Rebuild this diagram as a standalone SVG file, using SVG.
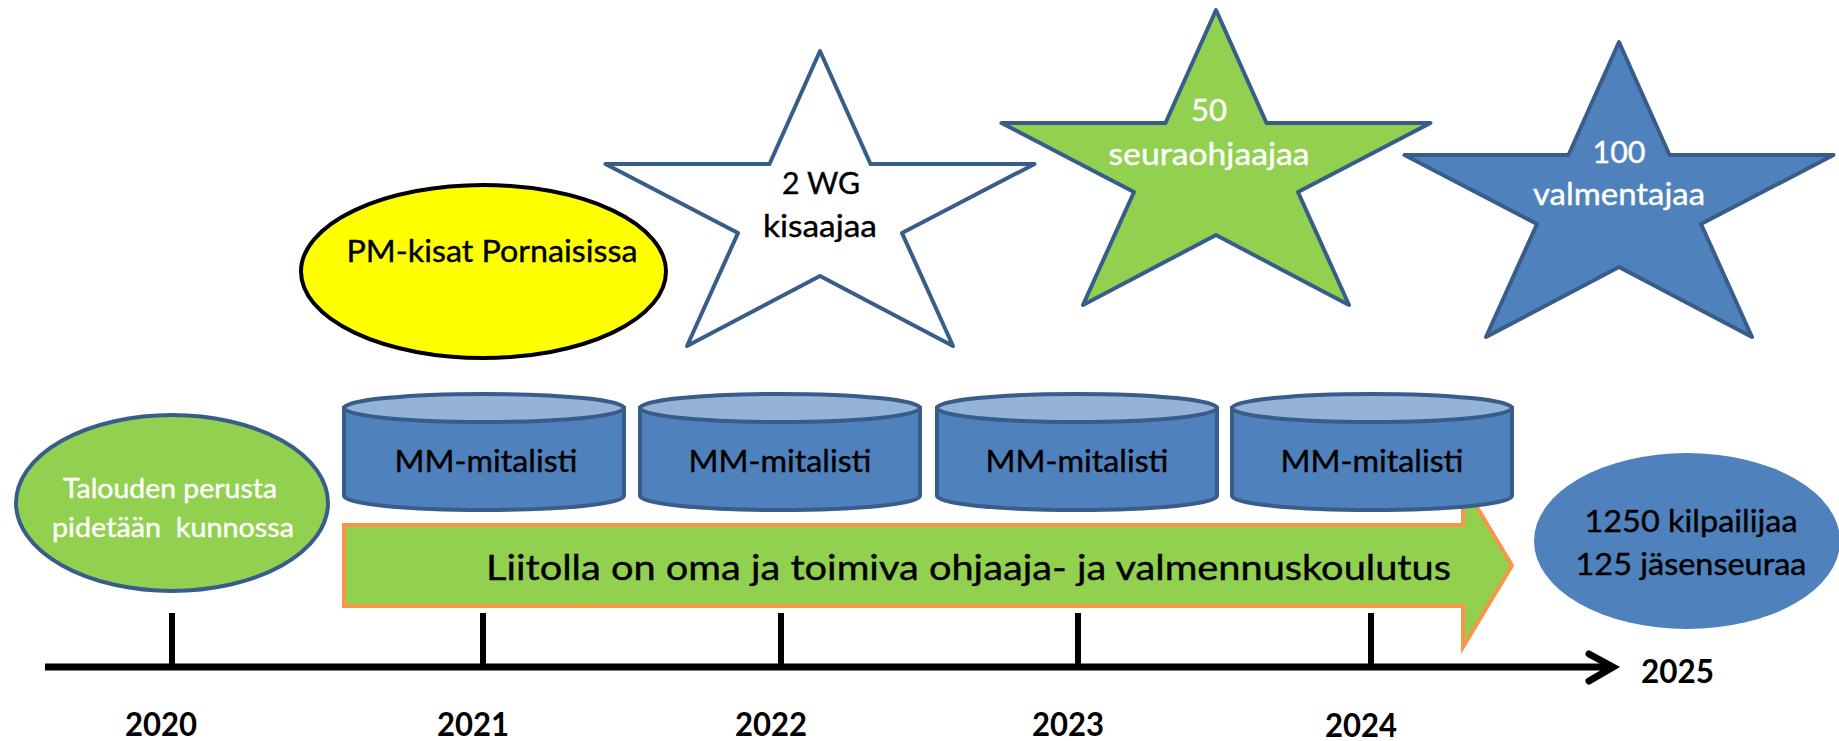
<svg xmlns="http://www.w3.org/2000/svg" xmlns:xlink="http://www.w3.org/1999/xlink" width="1839" height="741" viewBox="0 0 1839 741">
<style>
text{font-family:Lato,"Liberation Sans",sans-serif;}
.c{text-anchor:middle;}
.blk{fill:#000;stroke:#000;stroke-width:0.4;}
.wht{fill:#fff;stroke:#fff;stroke-width:0.4;}
.t31{font-size:31px;}
.yr{font-size:33px;font-weight:bold;fill:#000;}
.star{stroke:#385D8A;stroke-width:4;stroke-linejoin:round;}
.cylbody{fill:#4F81BD;stroke:#385D8A;stroke-width:4;}
.cyltop{fill:#95B3D7;stroke:#385D8A;stroke-width:4;}
.tick{stroke:#000;stroke-width:6;}
</style>
<defs>
<path id="starShape" d="M0,0 L50.5,113 L214.5,113 L82,182 L133,295 L0,225 L-133,295 L-82,182 L-214.5,113 L-50.5,113 Z"/>
<g id="cyl">
<path class="cylbody" d="M0,0 L0,88 A140,14 0 0 0 280,88 L280,0 Z"/>
<ellipse class="cyltop" cx="140" cy="0" rx="140" ry="14"/>
</g>
</defs>

<rect x="0" y="0" width="1839" height="741" fill="#fff"/>

<g id="connectors">
<g id="axis">
<line x1="45" y1="667" x2="1611" y2="667" stroke="#000" stroke-width="7"/>
<polyline points="1589,654 1613,667 1589,681" fill="none" stroke="#000" stroke-width="7" stroke-linecap="round" stroke-linejoin="miter"/>
<line class="tick" x1="172" y1="613" x2="172" y2="667"/>
<line class="tick" x1="483" y1="613" x2="483" y2="667"/>
<line class="tick" x1="781" y1="613" x2="781" y2="667"/>
<line class="tick" x1="1078" y1="613" x2="1078" y2="667"/>
<line class="tick" x1="1371" y1="613" x2="1371" y2="667"/>
</g>
</g>

<g id="years">
<text class="yr c" x="161" y="736" textLength="72" lengthAdjust="spacingAndGlyphs">2020</text>
<text class="yr c" x="473" y="736" textLength="72" lengthAdjust="spacingAndGlyphs">2021</text>
<text class="yr c" x="771" y="736" textLength="72" lengthAdjust="spacingAndGlyphs">2022</text>
<text class="yr c" x="1068" y="736" textLength="72" lengthAdjust="spacingAndGlyphs">2023</text>
<text class="yr c" x="1361" y="737" textLength="72" lengthAdjust="spacingAndGlyphs">2024</text>
<text class="yr" x="1641" y="683" textLength="73" lengthAdjust="spacingAndGlyphs">2025</text>
</g>

<g id="node-koulutus">
<polygon points="344,525 1463,525 1463,484 1512,565.5 1463,647 1463,606 344,606" fill="#92D050" stroke="#F79646" stroke-width="4" stroke-linejoin="miter"/>
<text class="blk" x="486" y="580" font-size="34" textLength="965" lengthAdjust="spacingAndGlyphs">Liitolla on oma ja toimiva ohjaaja- ja valmennuskoulutus</text>
</g>

<g id="node-mm-2021">
<use xlink:href="#cyl" href="#cyl" transform="translate(344,408)"/>
<text class="blk c t31" x="486" y="472" textLength="183" lengthAdjust="spacingAndGlyphs">MM-mitalisti</text>
</g>
<g id="node-mm-2022">
<use xlink:href="#cyl" href="#cyl" transform="translate(640,408)"/>
<text class="blk c t31" x="780" y="472" textLength="183" lengthAdjust="spacingAndGlyphs">MM-mitalisti</text>
</g>
<g id="node-mm-2023">
<use xlink:href="#cyl" href="#cyl" transform="translate(937,408)"/>
<text class="blk c t31" x="1077" y="472" textLength="183" lengthAdjust="spacingAndGlyphs">MM-mitalisti</text>
</g>
<g id="node-mm-2024">
<use xlink:href="#cyl" href="#cyl" transform="translate(1232,408)"/>
<text class="blk c t31" x="1372" y="472" textLength="183" lengthAdjust="spacingAndGlyphs">MM-mitalisti</text>
</g>

<g id="node-talous">
<ellipse cx="172" cy="503" rx="156" ry="88" fill="#92D050" stroke="#385D8A" stroke-width="4"/>
<text class="wht c" x="170" y="498" font-size="27" textLength="214" lengthAdjust="spacingAndGlyphs">Talouden perusta</text>
<text class="wht c" x="173" y="537" font-size="27" textLength="242" lengthAdjust="spacingAndGlyphs" xml:space="preserve">pidetään  kunnossa</text>
</g>

<g id="node-pm-kisat">
<ellipse cx="483.5" cy="271.5" rx="182.5" ry="86.5" fill="#FFFF00" stroke="#000" stroke-width="4"/>
<text class="blk c t31" x="492" y="262" textLength="291" lengthAdjust="spacingAndGlyphs">PM-kisat Pornaisissa</text>
</g>

<g id="node-wg">
<use xlink:href="#starShape" href="#starShape" class="star" fill="#fff" transform="translate(820,51)"/>
<text class="blk c t31" x="821" y="194" textLength="78" lengthAdjust="spacingAndGlyphs">2 WG</text>
<text class="blk c t31" x="820" y="237" textLength="114" lengthAdjust="spacingAndGlyphs">kisaajaa</text>
</g>

<g id="node-seuraohjaajat">
<use xlink:href="#starShape" href="#starShape" class="star" fill="#92D050" transform="translate(1216,10)"/>
<text class="wht c t31" x="1209" y="121" textLength="36" lengthAdjust="spacingAndGlyphs">50</text>
<text class="wht c t31" x="1209" y="165" textLength="201" lengthAdjust="spacingAndGlyphs">seuraohjaajaa</text>
</g>

<g id="node-valmentajat">
<use xlink:href="#starShape" href="#starShape" class="star" fill="#4F81BD" transform="translate(1619,42)"/>
<text class="wht c t31" x="1619" y="163" textLength="53" lengthAdjust="spacingAndGlyphs">100</text>
<text class="wht c t31" x="1619" y="205" textLength="172" lengthAdjust="spacingAndGlyphs">valmentajaa</text>
</g>

<g id="node-2025">
<ellipse cx="1687" cy="541" rx="153" ry="88" fill="#4F81BD"/>
<text class="blk c t31" x="1691" y="532" textLength="213" lengthAdjust="spacingAndGlyphs">1250 kilpailijaa</text>
<text class="blk c t31" x="1691" y="575" textLength="231" lengthAdjust="spacingAndGlyphs">125 jäsenseuraa</text>
</g>
</svg>
